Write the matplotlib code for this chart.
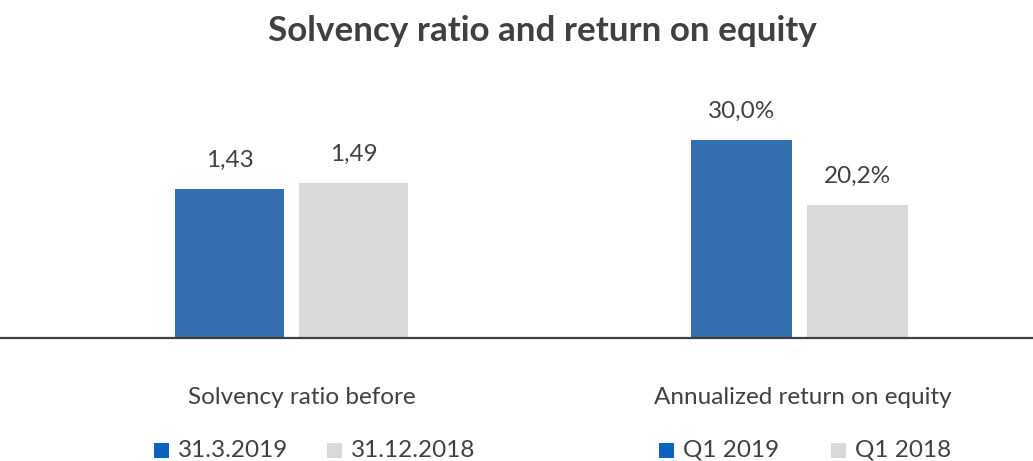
import matplotlib
matplotlib.use("Agg")
import matplotlib.pyplot as plt
from matplotlib.patches import Rectangle
from matplotlib.lines import Line2D

plt.rcParams['font.family'] = ['Lato', 'DejaVu Sans']

title = "Solvency ratio and return on equity"
categories = ["Solvency ratio before", "Annualized return on equity"]
solvency_series = ["31.3.2019", "31.12.2018"]
solvency_values = [1.43, 1.49]
solvency_labels = ["1,43", "1,49"]
roe_series = ["Q1 2019", "Q1 2018"]
roe_values = [30.0, 20.2]
roe_labels = ["30,0%", "20,2%"]

BLUE = "#356FB0"
GRAY = "#D9D9D9"
LEG_BLUE = "#0A64C0"
TXT = "#404040"

W, H = 1033, 461
fig = plt.figure(figsize=(W / 100, H / 100), dpi=100)

base_y = 338
top_y = 80
ax_h = (base_y - top_y) / H
ax_b = 1 - base_y / H

def make_axes(x0, x1, xlim, ylim):
    ax = fig.add_axes([x0 / W, ax_b, (x1 - x0) / W, ax_h])
    ax.set_xlim(*xlim)
    ax.set_ylim(*ylim)
    for s in ["left", "right", "top", "bottom"]:
        ax.spines[s].set_visible(False)
    ax.set_xticks([])
    ax.set_yticks([])
    ax.patch.set_alpha(0)
    return ax

# left chart: solvency
axL = make_axes(0, 583, (-2.915, 2.915), (0, (base_y - top_y) / 104.2))
offL, wL = 0.62, 1.09
colors = [BLUE, GRAY]
for i, (v, lab) in enumerate(zip(solvency_values, solvency_labels)):
    x = (-offL, offL)[i]
    axL.bar(x, v, width=wL, color=colors[i], linewidth=0)
    axL.annotate(lab, (x, v), xytext=(0, 13), textcoords="offset points",
                 ha="center", va="bottom", fontsize=17.5, color=TXT)

# right chart: ROE
axR = make_axes(583, 1033, (-2.165, 2.335), (0, (base_y - top_y) / 6.6))
offR, wR = 0.58, 1.01
for i, (v, lab) in enumerate(zip(roe_values, roe_labels)):
    x = (-offR, offR)[i]
    axR.bar(x, v, width=wR, color=colors[i], linewidth=0)
    axR.annotate(lab, (x, v), xytext=(0, 13), textcoords="offset points",
                 ha="center", va="bottom", fontsize=17.5, color=TXT)

# shared baseline
fig.lines.append(Line2D([0, 1], [ax_b, ax_b], transform=fig.transFigure,
                        color=TXT, linewidth=1.6, figure=fig))

# title
fig.text(542 / W, 1 - 31 / H, title, ha="center", va="center",
         fontsize=25.2, fontweight="bold", color=TXT)

# category labels
for cx, cat in zip([302, 803], categories):
    fig.text(cx / W, 1 - 397 / H, cat, ha="center", va="center",
             fontsize=17.5, color=TXT)

# legends (manual)
leg_colors = [LEG_BLUE, GRAY]
leg_y = 450
sq = 15
def legend(items, sq_x):
    for (name, c, x) in zip(items, leg_colors, sq_x):
        fig.patches.append(Rectangle((x / W, 1 - (leg_y + sq / 2) / H), sq / W, sq / H,
                                     transform=fig.transFigure, facecolor=c,
                                     edgecolor="none", figure=fig))
        fig.text((x + sq + 9) / W, 1 - leg_y / H, name, ha="left", va="center",
                 fontsize=17.5, color=TXT)

legend(solvency_series, [154, 327])
legend(roe_series, [659, 831])

fig.savefig("out.png", dpi=100)
